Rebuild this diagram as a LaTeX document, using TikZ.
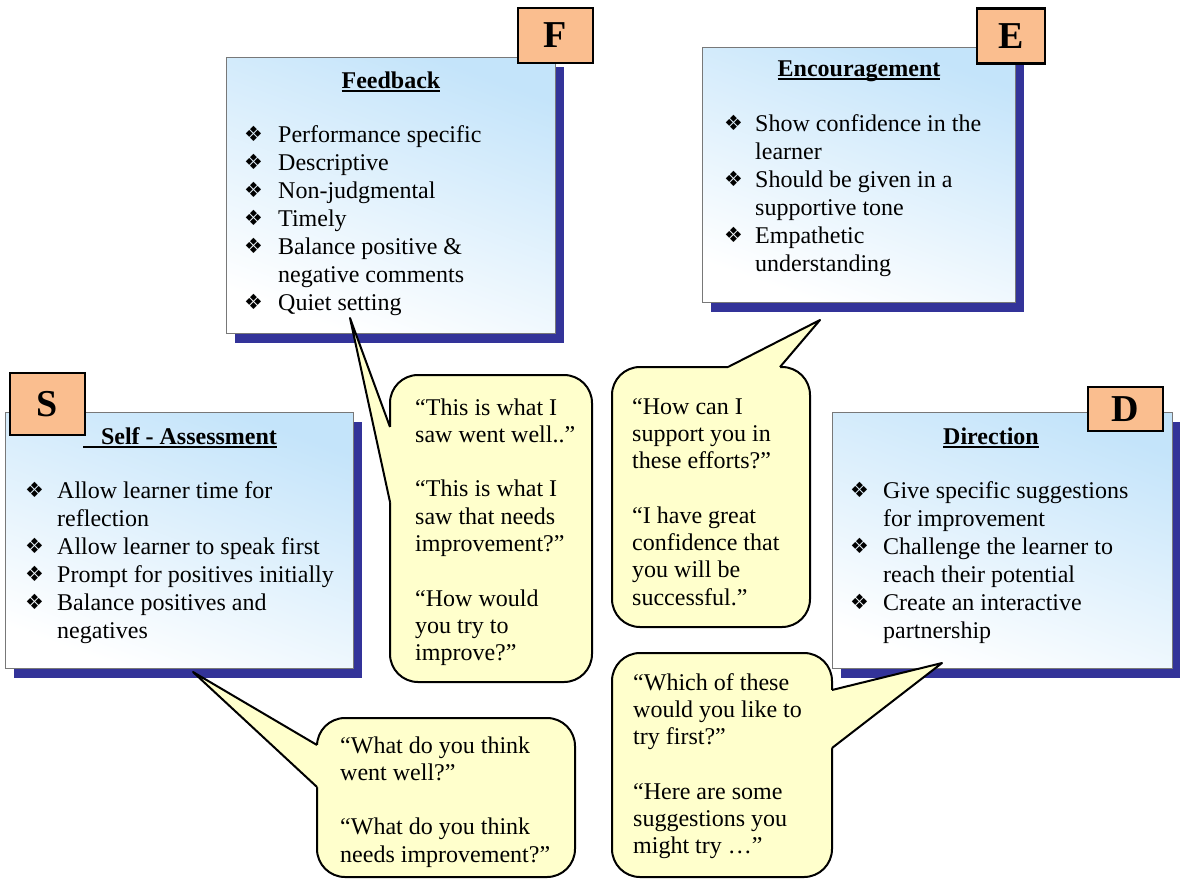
\documentclass[tikz,border=0pt]{standalone}
\usepackage{fontspec}
\setmainfont{Liberation Serif}
\newfontfamily\dejavu{DejaVu Sans}
\usetikzlibrary{calc,shadows}
\definecolor{shadowblue}{RGB}{51,51,153}
\definecolor{boxblue}{RGB}{196,228,250}
\definecolor{labelfill}{RGB}{250,190,143}
\definecolor{callfill}{RGB}{255,255,204}
\definecolor{boxedge}{RGB}{120,120,120}
\newlength\bw
\newcommand\bul{\raisebox{0.5pt}{\dejavu\fontsize{21}{21}\selectfont ❖}}
\newcommand\itm[1]{\makebox[\bw][l]{\bul}#1}
\newcommand\cnt[1]{\hspace*{\bw}#1}
\newcommand\ulhead[1]{\setbox0\hbox{#1}\rlap{\rule[-4pt]{\wd0}{1.6pt}}\box0}
\tikzset{
  infobox/.style={rectangle, draw=boxedge, line width=0.8pt, inner sep=0pt, outer sep=0pt,
    top color=boxblue, bottom color=white, shading angle=-20,
    drop shadow={shadow xshift=9pt, shadow yshift=-10pt, opacity=1, fill=shadowblue}},
  labelbox/.style={rectangle, draw=black, line width=2.2pt, fill=labelfill, inner sep=0pt,
    font=\bfseries\fontsize{38}{38}\selectfont},
  speech/.style={rectangle, draw=black, line width=2pt, fill=callfill, rounded corners=28pt,
    inner sep=0pt, outer sep=0pt},
  pointer/.style={draw=black, line width=2pt, line join=round},
  head/.style={anchor=base, inner sep=0pt, font=\bfseries\fontsize{24}{28}\selectfont},
  listtxt/.style={anchor=base west, inner sep=0pt, font=\fontsize{24}{28}\selectfont},
  calltxt/.style={anchor=base west, inner sep=0pt, font=\fontsize{24}{27.3}\selectfont},
}
\begin{document}
\begin{tikzpicture}[x=1pt, y=-1pt]
\useasboundingbox (0,0) rectangle (1180,879);

% ---------- boxes ----------
\node[infobox, minimum width=329pt, minimum height=276pt] (FB) at (390.5,195) {};
\node[infobox, minimum width=313pt, minimum height=255pt] (EB) at (858.5,174.5) {};
\node[infobox, minimum width=348pt, minimum height=256pt] (SB) at (179,540) {};
\node[infobox, minimum width=340pt, minimum height=256pt] (DB) at (1002,540) {};

% ---------- headings ----------
\node[head] (FH) at (391,88) {\ulhead{Feedback}};
\node[head] (EH) at (859,76) {\ulhead{Encouragement}};
\node[head] (SH) at (180,444) {\ulhead{\hspace*{18pt}Self - Assessment}};
\node[head] (DH) at (991,444) {\ulhead{Direction}};

% ---------- lists ----------
\node[listtxt] (FL) at (244,142) {\setlength\bw{34pt}\begin{tabular}[t]{@{}l@{}}
\itm{Performance specific}\\
\itm{Descriptive}\\
\itm{Non-judgmental}\\
\itm{Timely}\\
\itm{Balance positive \&}\\
\cnt{negative comments}\\
\itm{Quiet setting}
\end{tabular}};
\node[listtxt] (EL) at (724,131) {\setlength\bw{31pt}\begin{tabular}[t]{@{}l@{}}
\itm{Show confidence in the}\\
\cnt{learner}\\
\itm{Should be given in a}\\
\cnt{supportive tone}\\
\itm{Empathetic}\\
\cnt{understanding}
\end{tabular}};
\node[listtxt] (SL) at (25,498) {\setlength\bw{32pt}\begin{tabular}[t]{@{}l@{}}
\itm{Allow learner time for}\\
\cnt{reflection}\\
\itm{Allow learner to speak first}\\
\itm{Prompt for positives initially}\\
\itm{Balance positives and}\\
\cnt{negatives}
\end{tabular}};
\node[listtxt] (DL) at (850,498) {\setlength\bw{33pt}\begin{tabular}[t]{@{}l@{}}
\itm{Give specific suggestions}\\
\cnt{for improvement}\\
\itm{Challenge the learner to}\\
\cnt{reach their potential}\\
\itm{Create an interactive}\\
\cnt{partnership}
\end{tabular}};

% ---------- letter labels ----------
\node[labelbox, minimum width=75pt, minimum height=55pt] (FLab) at (555.5,35.5) {F};
\node[labelbox, minimum width=68pt, minimum height=55pt] (ELab) at (1011,36) {E};
\node[labelbox, minimum width=75pt, minimum height=62pt] (SLab) at (47.5,404) {S};
\node[labelbox, minimum width=75pt, minimum height=44pt] (DLab) at (1125.5,409) {D};

% ---------- speech bubbles ----------
\node[speech, minimum width=202pt, minimum height=307pt] (CF) at (491,528.5) {};
\node[speech, minimum width=198pt, minimum height=260pt] (CE) at (711,497) {};
\node[speech, minimum width=220pt, minimum height=224pt] (CD) at (722,765) {};
\node[speech, minimum width=258pt, minimum height=159pt] (CS) at (446,797.5) {};

% pointer tips
\coordinate (tipF) at (350,318);
\coordinate (tipE) at (820,320);
\coordinate (tipD) at (942,663);
\coordinate (tipS) at (193,672);

% pointer bases
\coordinate (f1) at ($(CF.north west)+(0,52)$);
\coordinate (f2) at ($(CF.north west)+(0,127)$);
\coordinate (e1) at ($(CE.north west)+(116,0)$);
\coordinate (e2) at ($(CE.north west)+(168,0)$);
\coordinate (d1) at ($(CD.north east)+(0,37)$);
\coordinate (d2) at ($(CD.north east)+(0,95)$);
\coordinate (s1) at ($(CS.north west)+(0,27)$);
\coordinate (s2) at ($(CS.north west)+(0,69)$);

\fill[callfill] ($(f1)+(3,0)$) -- (f1) -- (tipF) -- (f2) -- ($(f2)+(3,0)$) -- cycle;
\draw[pointer] (f1) -- (tipF) -- (f2);
\fill[callfill] ($(e1)+(0,3)$) -- (e1) -- (tipE) -- (e2) -- ($(e2)+(0,3)$) -- cycle;
\draw[pointer] (e1) -- (tipE) -- (e2);
\fill[callfill] ($(d1)+(-3,0)$) -- (d1) -- (tipD) -- (d2) -- ($(d2)+(-3,0)$) -- cycle;
\draw[pointer] (d1) -- (tipD) -- (d2);
\fill[callfill] ($(s1)+(3,0)$) -- (s1) -- (tipS) -- (s2) -- ($(s2)+(3,0)$) -- cycle;
\draw[pointer] (s1) -- (tipS) -- (s2);

% ---------- bubble texts ----------
\node[calltxt] (CFT) at (415,415) {\begin{tabular}[t]{@{}l@{}}
“This is what I\\
saw went well..”\\
\\
“This is what I\\
saw that needs\\
improvement?”\\
\\
“How would\\
you try to\\
improve?”
\end{tabular}};
\node[calltxt] (CET) at (632,414) {\begin{tabular}[t]{@{}l@{}}
“How can I\\
support you in\\
these efforts?”\\
\\
“I have great\\
confidence that\\
you will be\\
successful.”
\end{tabular}};
\node[calltxt] (CDT) at (633,690) {\begin{tabular}[t]{@{}l@{}}
“Which of these\\
would you like to\\
try first?”\\
\\
“Here are some\\
suggestions you\\
might try …”
\end{tabular}};
\node[calltxt] (CST) at (340,753) {\begin{tabular}[t]{@{}l@{}}
“What do you think\\
went well?”\\
\\
“What do you think\\
needs improvement?”
\end{tabular}};
\end{tikzpicture}
\end{document}
